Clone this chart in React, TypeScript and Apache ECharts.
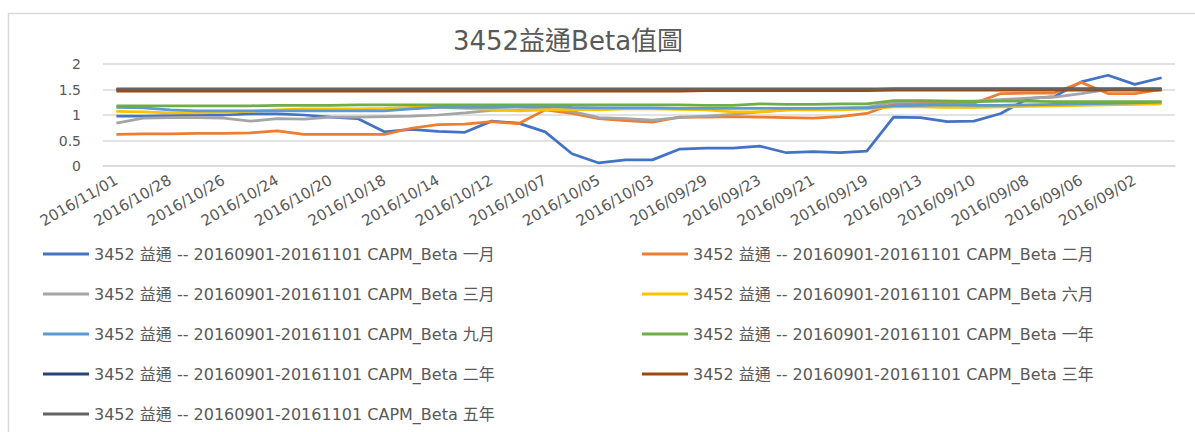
import React, { useEffect, useRef } from "react";
import * as echarts from "echarts";

const categories = [
  "2016/11/01", "2016/10/31", "2016/10/28", "2016/10/27", "2016/10/26", "2016/10/25", "2016/10/24", "2016/10/21",
  "2016/10/20", "2016/10/19", "2016/10/18", "2016/10/17", "2016/10/14", "2016/10/13", "2016/10/12", "2016/10/11",
  "2016/10/07", "2016/10/06", "2016/10/05", "2016/10/04", "2016/10/03", "2016/09/30", "2016/09/29", "2016/09/26",
  "2016/09/23", "2016/09/22", "2016/09/21", "2016/09/20", "2016/09/19", "2016/09/14", "2016/09/13", "2016/09/12",
  "2016/09/10", "2016/09/09", "2016/09/08", "2016/09/07", "2016/09/06", "2016/09/05", "2016/09/02", "2016/09/01",
];

const beta1M = [
  0.98, 0.98, 0.99, 1.0, 1.0, 1.02, 1.02, 1.0, 0.96, 0.93,
  0.67, 0.72, 0.68, 0.66, 0.88, 0.84, 0.67, 0.24, 0.06, 0.12,
  0.12, 0.33, 0.35, 0.35, 0.39, 0.26, 0.28, 0.26, 0.29, 0.96,
  0.95, 0.87, 0.88, 1.03, 1.32, 1.36, 1.65, 1.78, 1.6, 1.73,
];
const beta2M = [
  0.62, 0.63, 0.63, 0.64, 0.64, 0.65, 0.69, 0.62, 0.62, 0.62,
  0.62, 0.74, 0.81, 0.82, 0.87, 0.83, 1.1, 1.03, 0.93, 0.89,
  0.86, 0.96, 0.96, 0.97, 0.96, 0.95, 0.94, 0.97, 1.03, 1.22,
  1.23, 1.23, 1.23, 1.42, 1.43, 1.43, 1.64, 1.42, 1.42, 1.5,
];
const beta3M = [
  0.84, 0.94, 0.95, 0.95, 0.94, 0.88, 0.93, 0.92, 0.96, 0.96,
  0.97, 0.98, 1.0, 1.04, 1.09, 1.1, 1.12, 1.07, 0.95, 0.93,
  0.9, 0.95, 0.98, 1.01, 1.06, 1.1, 1.12, 1.13, 1.15, 1.25,
  1.27, 1.27, 1.27, 1.3, 1.33, 1.35, 1.42, 1.5, 1.5, 1.5,
];
const beta6M = [
  1.07, 1.06, 1.04, 1.04, 1.05, 1.07, 1.1, 1.12, 1.12, 1.12,
  1.13, 1.15, 1.15, 1.13, 1.11, 1.08, 1.1, 1.11, 1.1, 1.12,
  1.12, 1.11, 1.1, 1.06, 1.06, 1.1, 1.1, 1.1, 1.12, 1.16,
  1.16, 1.15, 1.15, 1.16, 1.17, 1.18, 1.19, 1.2, 1.21, 1.22,
];
const beta9M = [
  1.15, 1.14, 1.1, 1.08, 1.08, 1.08, 1.08, 1.08, 1.08, 1.08,
  1.08, 1.12, 1.15, 1.15, 1.15, 1.16, 1.17, 1.15, 1.14, 1.14,
  1.14, 1.13, 1.13, 1.13, 1.13, 1.13, 1.13, 1.14, 1.14, 1.18,
  1.19, 1.2, 1.19, 1.19, 1.2, 1.21, 1.22, 1.23, 1.24, 1.25,
];
const beta1Y = [
  1.18, 1.18, 1.18, 1.18, 1.18, 1.18, 1.19, 1.19, 1.19, 1.2,
  1.2, 1.2, 1.2, 1.2, 1.2, 1.2, 1.2, 1.2, 1.2, 1.2,
  1.2, 1.2, 1.19, 1.19, 1.22, 1.21, 1.21, 1.22, 1.22, 1.28,
  1.28, 1.27, 1.26, 1.27, 1.27, 1.26, 1.26, 1.26, 1.26, 1.26,
];
const beta2Y = [
  1.5, 1.5, 1.5, 1.5, 1.5, 1.5, 1.5, 1.5, 1.5, 1.5,
  1.5, 1.5, 1.5, 1.5, 1.5, 1.5, 1.5, 1.5, 1.5, 1.5,
  1.5, 1.5, 1.5, 1.5, 1.5, 1.5, 1.5, 1.5, 1.5, 1.51,
  1.51, 1.51, 1.51, 1.51, 1.51, 1.51, 1.51, 1.51, 1.51, 1.51,
];
const beta3Y = [
  1.47, 1.47, 1.47, 1.47, 1.47, 1.47, 1.47, 1.47, 1.47, 1.47,
  1.47, 1.47, 1.47, 1.47, 1.47, 1.47, 1.47, 1.47, 1.47, 1.47,
  1.47, 1.47, 1.48, 1.48, 1.48, 1.48, 1.48, 1.48, 1.48, 1.49,
  1.49, 1.49, 1.49, 1.49, 1.49, 1.49, 1.49, 1.49, 1.49, 1.49,
];
const beta5Y = [
  1.51, 1.51, 1.51, 1.51, 1.51, 1.51, 1.51, 1.51, 1.51, 1.51,
  1.51, 1.51, 1.51, 1.51, 1.51, 1.51, 1.51, 1.51, 1.51, 1.51,
  1.51, 1.51, 1.51, 1.51, 1.51, 1.51, 1.51, 1.51, 1.51, 1.51,
  1.51, 1.51, 1.51, 1.51, 1.51, 1.51, 1.51, 1.51, 1.51, 1.51,
];

const periodLabels = ["一月", "二月", "三月", "六月", "九月", "一年", "二年", "三年", "五年"];
const seriesValues = [beta1M, beta2M, beta3M, beta6M, beta9M, beta1Y, beta2Y, beta3Y, beta5Y];
const seriesColors = ["#4472C4", "#ED7D31", "#A5A5A5", "#FFC000", "#5B9BD5", "#70AD47", "#264478", "#9E480E", "#636363"];
const namePrefix = "3452 益通 -- 20160901-20161101 CAPM_Beta ";
const titleText = "3452益通Beta值圖";

const FONT = "'DejaVu Sans', 'Noto Sans CJK TC', sans-serif";
const TEXT_COLOR = "#595959";

export default function App() {
  const ref = useRef<HTMLDivElement>(null);

  useEffect(() => {
    if (!ref.current) return;
    const chart = echarts.init(ref.current, undefined, { renderer: "svg" });
    const names = periodLabels.map((p) => namePrefix + p);
    const leftNames = names.filter((_, i) => i % 2 === 0);
    const rightNames = names.filter((_, i) => i % 2 === 1);
    const legendCommon = {
      orient: "vertical" as const,
      top: 241,
      icon: "rect",
      itemWidth: 46,
      itemHeight: 3,
      itemGap: 24,
      textStyle: { fontSize: 16, lineHeight: 16, color: TEXT_COLOR, fontFamily: FONT },
    };
    chart.setOption({
      animation: false,
      backgroundColor: "#ffffff",
      textStyle: { fontFamily: FONT },
      title: {
        text: titleText,
        left: 563,
        top: 23,
        textAlign: "center",
        textStyle: { fontSize: 26, fontWeight: "normal", color: TEXT_COLOR, fontFamily: FONT },
      },
      graphic: [
        {
          type: "rect",
          shape: { x: 8.5, y: 13.5, width: 1300, height: 600 },
          style: { fill: "none", stroke: "#d9d9d9", lineWidth: 1.5 },
          silent: true,
        },
      ],
      legend: [
        { ...legendCommon, left: 38, data: leftNames },
        { ...legendCommon, left: 637, data: rightNames },
      ],
      grid: { left: 103, right: 20, top: 64, bottom: 266, containLabel: false },
      xAxis: {
        type: "category",
        data: categories,
        boundaryGap: true,
        axisTick: { show: false },
        axisLine: { lineStyle: { color: "#d9d9d9", width: 1.5 } },
        axisLabel: {
          interval: 1,
          rotate: 30,
          margin: 13,
          fontSize: 15,
          color: TEXT_COLOR,
          fontFamily: FONT,
        },
      },
      yAxis: {
        type: "value",
        min: 0,
        max: 2,
        interval: 0.5,
        axisLine: { show: false },
        axisTick: { show: false },
        splitLine: { lineStyle: { color: "#d9d9d9", width: 1.5 } },
        axisLabel: { margin: 22, fontSize: 14, color: TEXT_COLOR, fontFamily: FONT },
      },
      series: names.map((name, i) => ({
        name,
        type: "line",
        data: seriesValues[i],
        symbol: "none",
        color: seriesColors[i],
        lineStyle: { width: 2.75, color: seriesColors[i] },
        z: 2 + i,
      })),
    });
    return () => chart.dispose();
  }, []);

  return (
    <div
      ref={ref}
      style={{ position: "fixed", left: 0, top: 0, width: 1195, height: 432, background: "#fff" }}
    />
  );
}
